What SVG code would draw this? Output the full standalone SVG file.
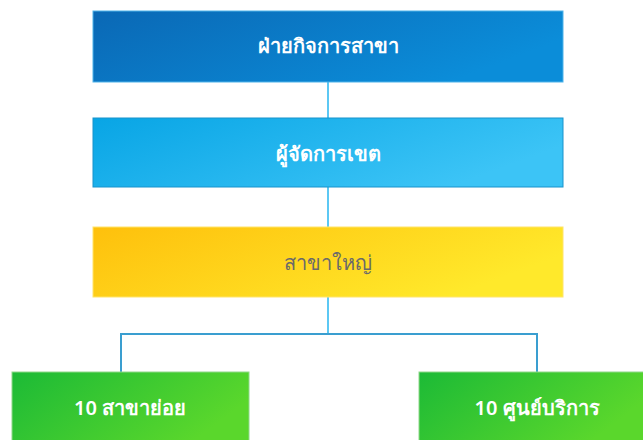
<svg xmlns="http://www.w3.org/2000/svg" width="643" height="440" viewBox="0 0 643 440">
<defs>
<linearGradient id="gBlue" x1="0" y1="0" x2="1" y2="0.4"><stop offset="0" stop-color="#0a68b5"/><stop offset="1" stop-color="#0b8dd9"/></linearGradient>
<linearGradient id="gSky" x1="0" y1="0" x2="1" y2="0.4"><stop offset="0" stop-color="#08a5e5"/><stop offset="1" stop-color="#3cc4f6"/></linearGradient>
<linearGradient id="gYellow" x1="0" y1="0" x2="1" y2="0.4"><stop offset="0" stop-color="#fec00c"/><stop offset="1" stop-color="#ffe92b"/></linearGradient>
<linearGradient id="gGreen" x1="0" y1="0" x2="1" y2="0.4"><stop offset="0" stop-color="#1cba36"/><stop offset="1" stop-color="#5ad72c"/></linearGradient>
</defs>
<style>
.lbl{font-family:"Noto Sans","Liberation Sans",sans-serif;font-size:20px;font-weight:600;text-anchor:middle;dominant-baseline:central}
.w{fill:#ffffff}
.g{fill:#6a6a6a;font-weight:500}
.conn{fill:none;stroke-width:2}
</style>
<g id="connectors">
<line class="conn" x1="328" y1="82" x2="328" y2="118" stroke="#5cc8f4"/>
<line class="conn" x1="328" y1="187" x2="328" y2="227" stroke="#5cc8f4"/>
<line class="conn" x1="328" y1="297" x2="328" y2="334" stroke="#5cc8f4"/>
<polyline class="conn" points="121,372 121,334 537,334 537,372" stroke="#3a9ed0"/>
</g>
<g id="n1">
<rect x="93" y="11" width="470" height="71" fill="url(#gBlue)" stroke="#4fb3ea" stroke-width="1"/>
<text class="lbl w" x="328" y="45">ฝ่ายกิจการสาขา</text>
</g>
<g id="n2">
<rect x="93" y="118" width="470" height="69" fill="url(#gSky)" stroke="#1993cc" stroke-width="1"/>
<text class="lbl w" x="328" y="153">ผู้จัดการเขต</text>
</g>
<g id="n3">
<rect x="93" y="227" width="470" height="70" fill="url(#gYellow)" stroke="#ffe46a" stroke-width="1"/>
<text class="lbl g" x="328" y="262">สาขาใหญ่</text>
</g>
<g id="n4">
<rect x="12" y="372" width="237" height="70" fill="url(#gGreen)" stroke="#8fd88a" stroke-width="1"/>
<text class="lbl w" x="130" y="407">10 สาขาย่อย</text>
</g>
<g id="n5">
<rect x="419" y="372" width="226" height="70" fill="url(#gGreen)" stroke="#8fd88a" stroke-width="1"/>
<text class="lbl w" x="537" y="407">10 ศูนย์บริการ</text>
</g>
</svg>
